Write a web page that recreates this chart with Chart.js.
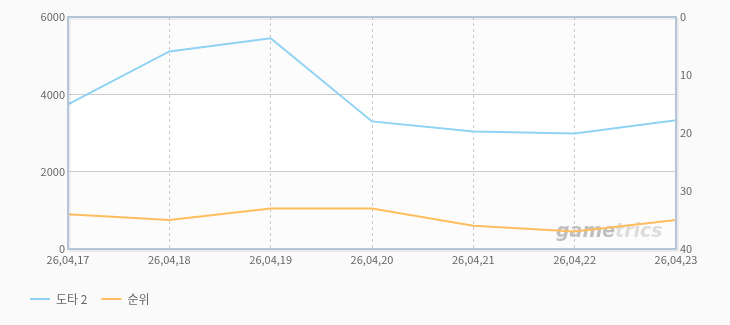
<!DOCTYPE html>
<html lang="ko">
<head>
  <meta charset="UTF-8" />
  <title>도타 2 순위</title>
  <script src="https://cdn.jsdelivr.net/npm/chart.js"></script>
  <style>
    html, body { margin: 0; padding: 0; background: #fafafa; }
    #wrap { width: 730px; height: 325px; position: relative; }
  </style>
</head>
<body>
  <div id="wrap"><canvas id="chart"></canvas></div>
  <script>
    const dates = ["26,04,17", "26,04,18", "26,04,19", "26,04,20", "26,04,21", "26,04,22", "26,04,23"];
    const users = [3740, 5110, 5450, 3300, 3040, 2990, 3330]; // 도타 2 (왼쪽 축)
    const rank = [34, 35, 33, 33, 36, 37, 35];                  // 순위 (오른쪽 축, 역순)
    const leftTicks = [0, 2000, 4000, 6000];
    const rightTicks = [0, 10, 20, 30, 40];

    const FONT = { family: "'Noto Sans CJK KR', 'DejaVu Sans', sans-serif", size: 11 };

    // 배경 띠 + 테두리 + 워터마크
    const frame = {
      id: "frame",
      afterLayout(chart) {
        // 범례를 오른쪽으로 조금 이동
        chart.legend.left += 16;
        chart.legend.right += 16;
      },
      beforeDraw(chart) {
        const { ctx, chartArea: a, scales } = chart;
        const y = scales.y;
        ctx.save();
        for (let i = 0; i < leftTicks.length - 1; i++) {
          const top = y.getPixelForValue(leftTicks[i + 1]);
          const bot = y.getPixelForValue(leftTicks[i]);
          ctx.fillStyle = i % 2 === 0 ? "#fcfcfc" : "#ffffff";
          ctx.fillRect(a.left, top, a.right - a.left, bot - top);
        }
        ctx.restore();
      },
      beforeDatasetsDraw(chart) {
        const { ctx, chartArea: a } = chart;
        ctx.save();
        ctx.font = "italic bold 19px 'DejaVu Sans', sans-serif";
        ctx.textBaseline = "alphabetic";
        ctx.fillStyle = "rgba(150,150,150,0.6)";
        ctx.fillText("game", a.right - 120, a.bottom - 12);
        const w = ctx.measureText("game").width;
        ctx.fillStyle = "rgba(190,190,190,0.5)";
        ctx.fillText("trics", a.right - 120 + w, a.bottom - 12);
        ctx.restore();
      },
      afterDatasetsDraw(chart) {
        const { ctx, chartArea: a } = chart;
        ctx.save();
        ctx.lineWidth = 2;
        ctx.strokeStyle = "rgba(0,0,0,0.06)";
        ctx.strokeRect(a.left + 2, a.top + 2, a.right - a.left, a.bottom - a.top);
        ctx.strokeStyle = "#b3c5d7";
        ctx.strokeRect(a.left, a.top, a.right - a.left, a.bottom - a.top);
        ctx.restore();
      }
    };

    new Chart(document.getElementById("chart"), {
      type: "line",
      data: {
        labels: dates,
        datasets: [
          {
            label: "도타 2",
            data: users,
            yAxisID: "y",
            borderColor: "#8fd2f4",
            backgroundColor: "#8fd2f4",
            borderWidth: 2,
            pointRadius: 0,
            tension: 0
          },
          {
            label: "순위",
            data: rank,
            yAxisID: "y1",
            borderColor: "#ffbd5e",
            backgroundColor: "#ffbd5e",
            borderWidth: 2,
            pointRadius: 0,
            tension: 0
          }
        ]
      },
      options: {
        responsive: true,
        maintainAspectRatio: false,
        animation: false,
        layout: { padding: { top: 17, left: 0, right: 0, bottom: 10 } },
        plugins: {
          tooltip: { enabled: false },
          legend: {
            position: "bottom",
            align: "start",
            labels: {
              usePointStyle: true,
              pointStyle: "line",
              pointStyleWidth: 20,
              color: "#666",
              font: { family: FONT.family, size: 12 },
              padding: 14
            }
          }
        },
        scales: {
          x: {
            offset: false,
            grid: { display: true, color: "#cccccc", drawTicks: false },
            border: { display: false, dash: [3, 3] },
            ticks: { color: "#666", font: FONT, maxRotation: 0, autoSkip: false, padding: 4 },
            afterFit(s) { s.height = 30; }
          },
          y: {
            position: "left",
            min: 0, max: 6000,
            afterBuildTicks(s) { s.ticks = leftTicks.map(v => ({ value: v })); },
            grid: { color: "#cccccc", drawTicks: false },
            border: { display: false },
            ticks: { color: "#666", font: FONT, padding: 3, callback: v => String(v) },
            afterFit(s) { s.width = 68; }
          },
          y1: {
            position: "right",
            reverse: true,
            min: 0, max: 40,
            afterBuildTicks(s) { s.ticks = rightTicks.map(v => ({ value: v })); },
            grid: { display: false, drawTicks: false },
            border: { display: false },
            ticks: { color: "#666", font: FONT, padding: 4, callback: v => String(v) },
            afterFit(s) { s.width = 54; }
          }
        }
      },
      plugins: [frame]
    });
  </script>
</body>
</html>
